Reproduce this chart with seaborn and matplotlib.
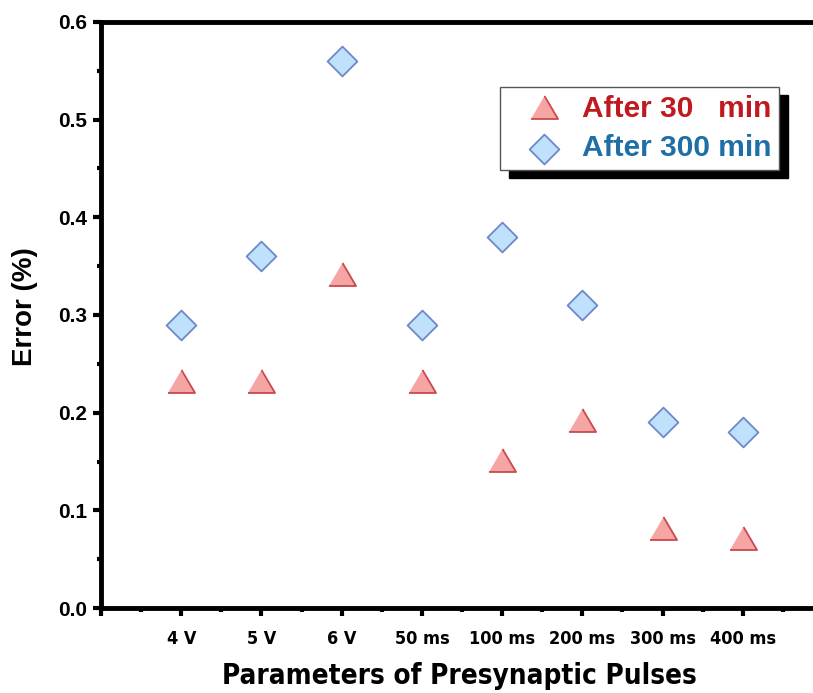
import matplotlib
matplotlib.use("Agg")
import matplotlib.pyplot as plt
from matplotlib.ticker import FixedLocator, MultipleLocator
import pandas as pd
import seaborn as sns

categories = ["4 V", "5 V", "6 V", "50 ms", "100 ms", "200 ms", "300 ms", "400 ms"]
after_30 = [0.23, 0.23, 0.34, 0.23, 0.15, 0.19, 0.08, 0.07]
after_300 = [0.29, 0.36, 0.56, 0.29, 0.38, 0.31, 0.19, 0.18]

df = pd.DataFrame({"param": categories, "a30": after_30, "a300": after_300})

sns.set_theme(style="ticks")
plt.rcParams["font.family"] = ["Liberation Sans", "DejaVu Sans"]
plt.rcParams["font.weight"] = "bold"
for key in ["text.color", "axes.labelcolor", "xtick.color", "ytick.color",
            "xtick.labelcolor", "ytick.labelcolor"]:
    plt.rcParams[key] = "black"
narrow = ["Liberation Sans Narrow", "DejaVu Sans"]

fig = plt.figure(figsize=(8.13, 6.93), dpi=100)
ax = fig.add_axes([101 / 813, 85 / 693, 722 / 813, 586 / 693])

tri = [(-1, -0.7), (1, -0.7), (0, 1.0)]
sns.scatterplot(data=df, x="param", y="a30", ax=ax, marker=tri, s=380,
                color="#f6a5a5", edgecolor="#c9494f", linewidth=1.3,
                label="After 30   min", zorder=3)
sns.scatterplot(data=df, x="param", y="a300", ax=ax, marker="D", s=230,
                color="#bfe1fb", edgecolor="#6f87cb", linewidth=1.3,
                label="After 300 min", zorder=3)

ax.set_xlim(-1, 8)
ax.set_ylim(0, 0.6)
ax.xaxis.set_major_locator(FixedLocator(range(-1, 9)))
ax.set_xticklabels([""] + categories + [""])
ax.xaxis.set_minor_locator(FixedLocator([i + 0.5 for i in range(-1, 8)]))
ax.yaxis.set_major_locator(MultipleLocator(0.1))
ax.yaxis.set_minor_locator(MultipleLocator(0.05))
ax.set_yticklabels([f"{v:.1f}" for v in ax.get_yticks()])

for side in ["left", "bottom", "top", "right"]:
    ax.spines[side].set_linewidth(3.5)
    ax.spines[side].set_color("black")

ax.tick_params(which="major", direction="out", length=6, width=3, color="black")
ax.tick_params(which="minor", direction="out", length=3, width=3, color="black")
ax.tick_params(axis="y", labelsize=15, pad=4)
ax.tick_params(axis="x", labelsize=13, pad=10)
for lab in ax.get_xticklabels():
    lab.set_family(narrow)
    lab.set_fontstretch("condensed")
    lab.set_fontweight("bold")
for lab in ax.get_yticklabels():
    lab.set_fontweight("bold")

ax.set_xlabel("Parameters of Presynaptic Pulses", fontsize=20, fontweight="bold",
              family=narrow, fontstretch="condensed")
ax.xaxis.set_label_coords(0.497, -0.093)
ax.set_ylabel("Error (%)", fontsize=20, fontweight="bold")
ax.yaxis.set_label_coords(-0.087, 0.514)

leg = ax.legend(loc="upper left", bbox_to_anchor=(0.553, 0.889), borderaxespad=0,
                fancybox=False, framealpha=1, edgecolor="#555555",
                shadow={"ox": 6, "oy": -6, "color": "black", "alpha": 1},
                prop={"size": 21.5, "weight": "bold"}, handletextpad=0.1,
                borderpad=0.25, labelspacing=0.4, handlelength=2.4)
leg.get_frame().set_linewidth(1.0)
text_colors = ["#bf1a1f", "#1d6fa6"]
for txt, c in zip(leg.get_texts(), text_colors):
    txt.set_color(c)

fig.savefig("out.png", dpi=100)
